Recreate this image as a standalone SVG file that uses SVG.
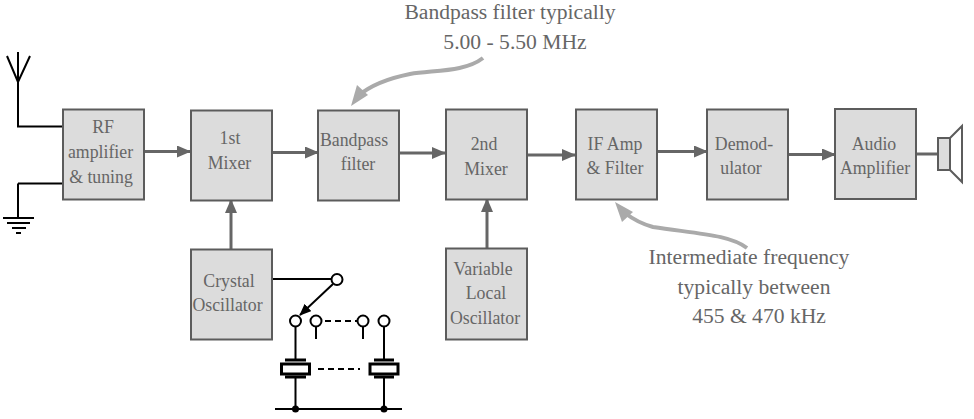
<svg xmlns="http://www.w3.org/2000/svg" width="974" height="419" viewBox="0 0 974 419">
<style>
text{font-family:"Liberation Serif","Times New Roman",serif;fill:#666;text-anchor:middle}
.b text{font-size:17.8px}
.n text{font-size:21.6px}
.box{fill:#dcdcdc;stroke:#5c5c5c;stroke-width:2}
.a{fill:none;stroke:#666;stroke-width:3}
.k{fill:none;stroke:#000;stroke-width:2}
.d{fill:none;stroke:#000;stroke-width:2;stroke-dasharray:6 4}
.c{fill:#fff;stroke:#000;stroke-width:2}
.q{fill:none;stroke:#aaa;stroke-width:4}
.dot{fill:#000}
</style>
<defs>
<marker id="ah" markerUnits="userSpaceOnUse" markerWidth="14" markerHeight="12" refX="13" refY="6" orient="auto"><path d="M0 0L14 6L0 12Z" fill="#666"/></marker>
<marker id="ak" markerUnits="userSpaceOnUse" markerWidth="12" markerHeight="10" refX="11" refY="5" orient="auto"><path d="M0 0L12 5L0 10Z" fill="#000"/></marker>
</defs>
<g id="connectors">
<path class="a" marker-end="url(#ah)" d="M144 151.500H190"/>
<path class="a" marker-end="url(#ah)" d="M272 152.500H318"/>
<path class="a" marker-end="url(#ah)" d="M399 153H445"/>
<path class="a" marker-end="url(#ah)" d="M527 155H575"/>
<path class="a" marker-end="url(#ah)" d="M657 151.500H707"/>
<path class="a" marker-end="url(#ah)" d="M788 154.500H835"/>
<path class="a" d="M916 154H938"/>
<path class="a" marker-end="url(#ah)" d="M231 249V200"/>
<path class="a" marker-end="url(#ah)" d="M487 248V199"/>
<path class="k" d="M18 82V126.500H63M18 183.500H63M18 183.500V218"/>
<path class="k" d="M273 279H331"/>
</g>
<g id="antenna"><path class="k" d="M7 56L18 82L30 56M18 52V82"/></g>
<g id="ground"><path class="k" d="M3 218H34M7 223H30M12 228H26M16 233H21"/></g>
<g id="rf" class="b"><rect class="box" x="63" y="109.500" width="81" height="90"/><text x="103" y="133">RF</text><text x="100.500" y="158">amplifier</text><text x="101" y="183">&amp; tuning</text></g>
<g id="mixer1" class="b"><rect class="box" x="191" y="110.500" width="81" height="90"/><text x="230" y="144">1st</text><text x="229.500" y="169">Mixer</text></g>
<g id="bandpass" class="b"><rect class="box" x="318" y="110.500" width="81" height="90"/><text x="354" y="146">Bandpass</text><text x="358" y="170">filter</text></g>
<g id="mixer2" class="b"><rect class="box" x="446" y="109.500" width="81" height="90"/><text x="484" y="150">2nd</text><text x="486" y="175">Mixer</text></g>
<g id="ifamp" class="b"><rect class="box" x="576" y="109.500" width="81" height="90"/><text x="615" y="150">IF Amp</text><text x="615" y="174">&amp; Filter</text></g>
<g id="demod" class="b"><rect class="box" x="707" y="109.500" width="81" height="90"/><text x="744" y="150">Demod-</text><text x="741" y="174">ulator</text></g>
<g id="audio" class="b"><rect class="box" x="835" y="109" width="81" height="90"/><text x="874" y="150">Audio</text><text x="875" y="174">Amplifier</text></g>
<g id="speaker"><path d="M938 138H950V170H938Z" fill="#dcdcdc" stroke="#5c5c5c" stroke-width="2"/><path d="M950 138L962 126V182L950 170" fill="none" stroke="#5c5c5c" stroke-width="2"/></g>
<g id="crystal" class="b"><rect class="box" x="191" y="249.500" width="81" height="90"/><text x="229" y="287">Crystal</text><text x="227.500" y="311">Oscillator</text></g>
<g id="vlo" class="b"><rect class="box" x="446" y="248.500" width="81" height="91"/><text x="483" y="275">Variable</text><text x="486" y="299">Local</text><text x="485" y="324">Oscillator</text></g>
<g id="switch">
<path class="k" marker-end="url(#ak)" d="M333 284L300 315"/>
<path class="k" d="M295.500 327V361M316 327V339M363 327V339M384 327V361"/>
<path class="d" d="M325 321H358"/>
<circle class="c" cx="337" cy="279.500" r="5.500"/><circle class="c" cx="295.500" cy="321" r="5.500"/><circle class="c" cx="316" cy="321" r="5.500"/><circle class="c" cx="363" cy="321" r="5.500"/><circle class="c" cx="384" cy="321" r="5.500"/>
</g>
<g id="crystals">
<path d="M285 360H306M285 377H306M374 360H394M374 377H394" stroke="#000" stroke-width="3" fill="none"/>
<rect x="281.500" y="364" width="28" height="10" fill="#fff" stroke="#000" stroke-width="3"/>
<rect x="370" y="364" width="28" height="10" fill="#fff" stroke="#000" stroke-width="3"/>
<path class="d" d="M318 369H360"/>
<path class="k" d="M295.500 378V409M384 378V409M275 409H402"/>
<circle class="dot" cx="295.500" cy="409" r="3.500"/><circle class="dot" cx="384" cy="409" r="3.500"/>
</g>
<g id="note-bandpass" class="n">
<text x="510" y="19">Bandpass filter typically</text><text x="515" y="49">5.00 - 5.50 MHz</text>
<path class="q" d="M483 58C465 72 435 70 410 74C390 78 372 84 358 96"/><path d="M351 106L357 85L368 95Z" fill="#aaa"/>
</g>
<g id="note-if" class="n">
<text x="749" y="264">Intermediate frequency</text><text x="754" y="294">typically between</text><text x="759" y="323">455 &amp; 470 kHz</text>
<path class="q" d="M747 248C730 235 700 234 653 227C642 224 634 220 625 213"/><path d="M615 202L633 212L622 222Z" fill="#aaa"/>
</g>
</svg>
